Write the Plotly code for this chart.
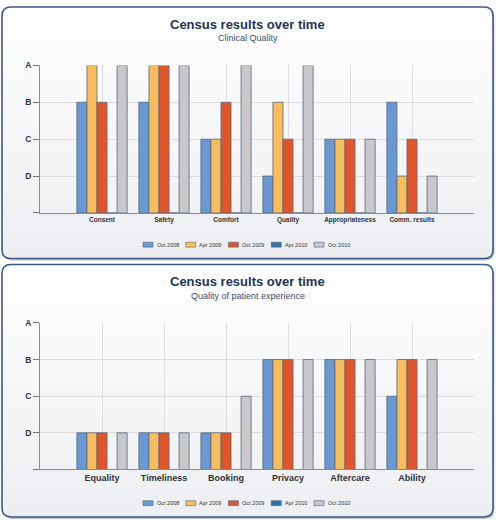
import plotly.graph_objects as go

# ---------------- data ----------------
series_names = ["Oct 2008", "Apr 2009", "Oct 2009", "Apr 2010", "Oct 2010"]
series_colors = ["#6a98d2", "#fbbd5c", "#e0562a", "#2e75a8", "#c8c8ca"]

grade_labels = ["", "D", "C", "B", "A"]   # 0..4

clinical_categories = ["Consent", "Safety", "Comfort", "Quality", "Appropriateness", "Comm. results"]
clinical_oct2008 = [3, 3, 2, 1, 2, 3]
clinical_apr2009 = [4, 4, 2, 3, 2, 1]
clinical_oct2009 = [3, 4, 3, 2, 2, 2]
clinical_apr2010 = [0, 0, 0, 0, 0, 0]
clinical_oct2010 = [4, 4, 4, 4, 2, 1]

patient_categories = ["Equality", "Timeliness", "Booking", "Privacy", "Aftercare", "Ability"]
patient_oct2008 = [1, 1, 1, 3, 3, 2]
patient_apr2009 = [1, 1, 1, 3, 3, 3]
patient_oct2009 = [1, 1, 1, 3, 3, 3]
patient_apr2010 = [0, 0, 0, 0, 0, 0]
patient_oct2010 = [1, 1, 2, 3, 3, 3]

title_text = "Census results over time"
subtitle_top = "Clinical Quality"
subtitle_bottom = "Quality of patient experience"

# ---------------- geometry helpers ----------------
W, H = 498, 520


def px(x):
    return x / W


def py(y):
    return 1 - y / H


def rr_path(x0, y0, x1, y1, r, top=True, bottom=True):
    rt = r if top else 0
    rb = r if bottom else 0
    pts = []
    pts.append(f"M{px(x0 + rt)},{py(y0)}")
    pts.append(f"L{px(x1 - rt)},{py(y0)}")
    if rt:
        pts.append(f"Q{px(x1)},{py(y0)} {px(x1)},{py(y0 + rt)}")
    pts.append(f"L{px(x1)},{py(y1 - rb)}")
    if rb:
        pts.append(f"Q{px(x1)},{py(y1)} {px(x1 - rb)},{py(y1)}")
    pts.append(f"L{px(x0 + rb)},{py(y1)}")
    if rb:
        pts.append(f"Q{px(x0)},{py(y1)} {px(x0)},{py(y1 - rb)}")
    pts.append(f"L{px(x0)},{py(y0 + rt)}")
    if rt:
        pts.append(f"Q{px(x0)},{py(y0)} {px(x0 + rt)},{py(y0)}")
    pts.append("Z")
    return " ".join(pts)


def mix(c1, c2, t):
    a = [int(c1[i:i + 2], 16) for i in (1, 3, 5)]
    b = [int(c2[i:i + 2], 16) for i in (1, 3, 5)]
    return "#" + "".join(f"{round(a[k] + (b[k] - a[k]) * t):02x}" for k in range(3))


fig = go.Figure()

panels = [
    dict(box=(2, 2, 493, 256), plot=(40, 61, 474, 210), xa="x", ya="y",
         cats=clinical_categories,
         vals=[clinical_oct2008, clinical_apr2009, clinical_oct2009, clinical_apr2010, clinical_oct2010],
         sub=subtitle_top, cat_font=6.5, legend_y=242),
    dict(box=(2, 262, 493, 517), plot=(40, 321, 474, 469), xa="x2", ya="y2",
         cats=patient_categories,
         vals=[patient_oct2008, patient_apr2009, patient_oct2009, patient_apr2010, patient_oct2010],
         sub=subtitle_bottom, cat_font=9, legend_y=503),
]

shapes = []
annotations = []
top_col, bot_col = "#ffffff", "#eceef1"
R = 9

for i, p in enumerate(panels):
    x0, y0, x1, y1 = p["box"]
    # shadow
    shapes.append(dict(type="path", xref="paper", yref="paper", layer="below",
                       path=rr_path(x0 + 1.5, y0 + 2, x1 + 1.5, y1 + 2, R),
                       fillcolor="rgba(70,85,110,0.35)", line=dict(width=0)))
    # base fill
    shapes.append(dict(type="path", xref="paper", yref="paper", layer="below",
                       path=rr_path(x0, y0, x1, y1, R),
                       fillcolor=top_col, line=dict(width=0)))
    # gradient bands
    n = 24
    ya, yb = y0 + R, y1 - R
    for k in range(n):
        t0 = ya + (yb - ya) * k / n
        t1 = ya + (yb - ya) * (k + 1) / n + 0.5
        col = mix(top_col, bot_col, (t0 - y0) / (y1 - y0))
        shapes.append(dict(type="rect", xref="paper", yref="paper", layer="below",
                           x0=px(x0), x1=px(x1), y0=py(t0), y1=py(t1),
                           fillcolor=col, line=dict(width=0)))
    shapes.append(dict(type="path", xref="paper", yref="paper", layer="below",
                       path=rr_path(x0, y1 - R - 0.5, x1, y1, R, top=False, bottom=True),
                       fillcolor=bot_col, line=dict(width=0)))
    # border
    shapes.append(dict(type="path", xref="paper", yref="paper", layer="above",
                       path=rr_path(x0, y0, x1, y1, R),
                       fillcolor="rgba(0,0,0,0)", line=dict(color="#3d5986", width=1.6)))

    # titles
    cx = (x0 + x1) / 2
    annotations.append(dict(text=f"<b>{title_text}</b>", x=px(cx), y=py(y0 + 17.5),
                            xref="paper", yref="paper", showarrow=False,
                            xanchor="center", yanchor="middle",
                            font=dict(family="Liberation Sans, Arial", size=13, color="#1e3459")))
    annotations.append(dict(text=p["sub"], x=px(cx), y=py(y0 + 31.5),
                            xref="paper", yref="paper", showarrow=False,
                            xanchor="center", yanchor="middle",
                            font=dict(family="Liberation Sans, Arial", size=9, color="#3c4d6e")))

    # bars
    for s, name in enumerate(series_names):
        fig.add_trace(go.Bar(
            x=list(range(1, len(p["cats"]) + 1)), y=p["vals"][s], name=name,
            marker=dict(color=series_colors[s], line=dict(color="#56667f", width=0.8)),
            xaxis=p["xa"], yaxis=p["ya"], showlegend=False,
            offsetgroup=str(s),
        ))

    # manual legend
    ly = p["legend_y"]
    for s, name in enumerate(series_names):
        bx = 143 + s * 42.75
        shapes.append(dict(type="rect", xref="paper", yref="paper", layer="above",
                           x0=px(bx), x1=px(bx + 10), y0=py(ly + 2.5), y1=py(ly - 2.5),
                           fillcolor=series_colors[s], line=dict(color="#56667f", width=0.6)))
        annotations.append(dict(text=name, x=px(bx + 11.5), y=py(ly), xref="paper", yref="paper",
                                showarrow=False, xanchor="left", yanchor="middle",
                                font=dict(family="Liberation Sans, Arial", size=5.5, color="#333333")))

axis_common_x = dict(range=[0, 7], showgrid=True, gridcolor="#dddddd", gridwidth=1,
                     showline=True, linecolor="#8c8c8c", linewidth=1, ticks="",
                     zeroline=False, fixedrange=True)
axis_common_y = dict(range=[0, 4], tickvals=[0, 1, 2, 3, 4], ticktext=grade_labels,
                     showgrid=True, gridcolor="#dddddd", gridwidth=1,
                     showline=True, linecolor="#8c8c8c", linewidth=1,
                     ticks="outside", ticklen=6, tickcolor="#777777",
                     tickfont=dict(family="Liberation Sans, Arial", size=8.5, color="#333333", weight="bold"),
                     zeroline=False, fixedrange=True)

layout = dict(
    width=W, height=H, margin=dict(l=0, r=0, t=0, b=0),
    paper_bgcolor="#ffffff", plot_bgcolor="rgba(0,0,0,0)",
    barmode="group", bargap=0.19, bargroupgap=0,
    shapes=shapes, annotations=annotations, showlegend=False,
)
for i, p in enumerate(panels):
    sx = "" if i == 0 else "2"
    X0, Y0, X1, Y1 = p["plot"]
    xa = dict(axis_common_x)
    xa.update(domain=[px(X0), px(X1)], anchor="y" + sx,
              tickvals=list(range(1, 8)), ticktext=p["cats"] + [""],
              tickfont=dict(family="Liberation Sans, Arial", size=p["cat_font"], color="#333333", weight="bold"))
    ya = dict(axis_common_y)
    ya.update(domain=[py(Y1), py(Y0)], anchor="x" + sx)
    layout["xaxis" + sx] = xa
    layout["yaxis" + sx] = ya

fig.update_layout(**layout)
fig.write_html("out.html", config={"displayModeBar": False},
               post_script="document.body.style.margin='0';document.body.style.overflow='hidden';")
